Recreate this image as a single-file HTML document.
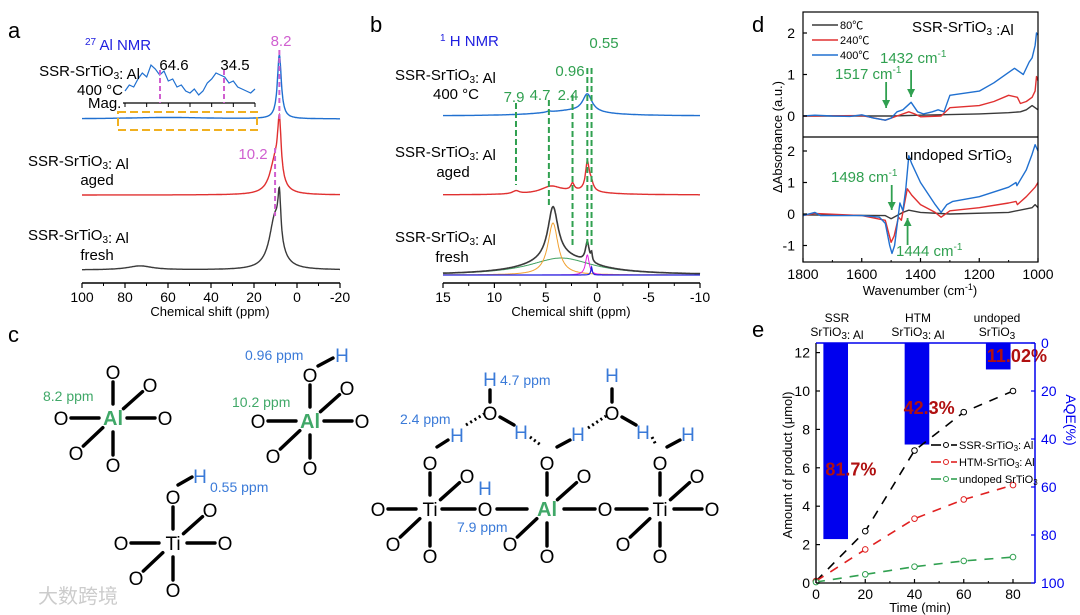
<!DOCTYPE html>
<html><head><meta charset="utf-8">
<style>
html,body{margin:0;padding:0;background:#fff;}
svg{display:block;font-family:"Liberation Sans","Noto Sans CJK SC",sans-serif;}
</style></head>
<body>
<svg id="fig" width="1080" height="615" viewBox="0 0 1080 615" xmlns="http://www.w3.org/2000/svg">
<g id="pa"></g>
<g id="pb"></g>
<g id="pc"></g>
<g id="pd"></g>
<g id="pe"></g>
<text x="38" y="603" font-size="20" fill="#ccc">大数跨境</text>
</svg>
<script>
// ---------- DATA ----------
const aBluePeaks=[[8.2,64,1.1],[60,1.5,25]];
const aRedPeaks=[[8.2,58,1.0],[10.2,32,3.0]];
const aBlackPeaks=[[8.2,45,0.8],[10.2,52,3.2],[73,4,7]];
const aInset=[3,6,5,9,12,10,16,14,11,13,8,9,5,6,3,2,4,1,3,7,9,12,11,10,7,8,5,4,3,2,4];
const aTicks=[100,80,60,40,20,0,-20];
const bBluePeaks=[[0.96,18,0.55],[2.5,5,3.5],[4.7,1,0.3]];
const bRedPeaks=[[0.96,28,0.22],[0.6,8,0.25],[2.4,7,0.2],[4.5,7,1.2],[7.9,3,0.4],[2.0,3,3]];
const bOrange=[[4.3,52,0.6]];
const bGreen=[[3.5,17,3.8]];
const bMagenta=[[0.96,20,0.22]];
const bBlueFit=[[0.55,8,0.08]];
const bTicks=[15,10,5,0,-5,-10];
const dTopBlue=[[1800,0],[1760,0.02],[1700,0],[1640,-0.01],[1600,0.03],[1560,-0.05],[1520,-0.1],[1500,-0.05],[1480,0.1],[1460,0.15],[1432,0.33],[1410,0.1],[1390,0.05],[1360,0.1],[1340,0.15],[1320,0.1],[1300,0.5],[1280,0.52],[1200,0.6],[1150,0.8],[1100,1.05],[1080,1.15],[1060,1.05],[1050,1.0],[1030,1.3],[1020,1.4],[1010,1.7],[1005,2.0],[1000,1.95]];
const dTopRed=[[1800,0],[1600,0.01],[1520,-0.1],[1480,0],[1440,0.1],[1420,0.05],[1400,-0.02],[1330,0],[1300,0.2],[1200,0.25],[1150,0.35],[1100,0.5],[1070,0.45],[1060,0.3],[1040,0.35],[1020,0.45],[1010,0.6],[1005,0.95],[1000,0.85]];
const dTopBlack=[[1800,0],[1500,0],[1400,0.02],[1200,0.05],[1100,0.08],[1060,0.1],[1040,0.15],[1020,0.25],[1010,0.2],[1000,0.15]];
const dBotBlue=[[1800,-0.05],[1760,0.05],[1740,-0.05],[1600,-0.05],[1540,-0.1],[1520,-0.3],[1505,-1.0],[1497,-1.25],[1488,-1.0],[1475,0],[1470,0.35],[1460,0.1],[1450,0.8],[1440,1.85],[1430,1.6],[1400,1.0],[1350,0.3],[1330,0.05],[1310,0.3],[1290,0.4],[1200,0.55],[1100,0.85],[1075,1.0],[1072,0.9],[1040,1.4],[1020,1.9],[1010,2.2],[1000,2.0]];
const dBotRed=[[1800,-0.05],[1760,0.02],[1600,-0.05],[1520,-0.2],[1500,-0.9],[1490,-0.7],[1475,-0.1],[1465,-0.2],[1455,0.3],[1445,0.8],[1430,0.6],[1400,0.3],[1350,0.05],[1330,-0.1],[1300,0.1],[1200,0.2],[1100,0.35],[1075,0.4],[1070,0.3],[1040,0.55],[1010,0.85],[1000,1.0]];
const dBotBlack=[[1800,-0.03],[1520,-0.05],[1500,-0.15],[1460,0.05],[1440,0.12],[1400,0.05],[1300,0],[1100,0.05],[1020,0.2],[1010,0.3],[1000,0.2]];
const dXTicks=[1800,1600,1400,1200,1000];
const dTopTicks=[0,1,2];
const dBotTicks=[-1,0,1,2];
const eTimes=[0,20,40,60,80];
const eSSR=[0.1,2.7,6.9,8.9,10.0];
const eHTM=[0.1,1.75,3.35,4.35,5.1];
const eUndoped=[0.05,0.45,0.85,1.15,1.35];
const eBarNames=["SSR","HTM","undoped"];
const eBarStart=[3,36,69];
const eAQE=[81.7,42.3,11.02];
const eAQELabels=["81.7%","42.3%","11.02%"];
const eXTicks=[0,20,40,60,80];
const eYTicks=[0,2,4,6,8,10,12];
const eAQETicks=[0,20,40,60,80,100];

// ---------- HELPERS ----------
const NS="http://www.w3.org/2000/svg";
function mk(parent,tag,attrs,text){const e=document.createElementNS(NS,tag);for(const k in attrs)e.setAttribute(k,attrs[k]);if(text!==undefined)e.textContent=text;parent.appendChild(e);return e;}
function txt(p,x,y,s,size,fill,anchor,name,extra){const e=mk(p,'text',Object.assign({x:x,y:y,'font-size':size,fill:fill||'#000','text-anchor':anchor||'start'},extra||{}));e.innerHTML=s;


return e;}
function lor(peaks,p){let s=0;for(const [c,h,w] of peaks){s+=h*w*w/((p-c)*(p-c)+w*w);}return s;}
function spectrum(p,peaks,xf,p0,p1,base,color,name,sw){let d='';const n=600;for(let i=0;i<=n;i++){const q=p0+(p1-p0)*i/n;const y=base-lor(peaks,q);d+=(i?'L':'M')+xf(q).toFixed(1)+','+y.toFixed(1);}
const e=mk(p,'path',{d:d,fill:'none',stroke:color,'stroke-width':sw||1.4});


return e;}
function line(p,x1,y1,x2,y2,color,w,dash,name){const e=mk(p,'line',{x1:x1,y1:y1,x2:x2,y2:y2,stroke:color,'stroke-width':w||1.2});if(dash)e.setAttribute('stroke-dasharray',dash);


return e;}
const SUB3='SrTiO<tspan font-size="10" dy="3">3</tspan>';

// ---------- PANEL A ----------
(function(){const g=document.getElementById('pa');
const xa=p=>82+(100-p)*258/120;
txt(g,8,38,'a',22,'#000','start','panel-label-a');
txt(g,85,50,'<tspan font-size="10" dy="-5">27</tspan><tspan dy="5"> Al NMR</tspan>',15,'#2020e0','start','title-al-nmr');
spectrum(g,aBlackPeaks,xa,100,-20,270,'#3a3a3a','trace-fresh');
spectrum(g,aRedPeaks,xa,100,-20,195,'#e03030','trace-aged');
spectrum(g,aBluePeaks,xa,100,-20,119,'#2070d0','trace-400c');
let d='';aInset.forEach((v,i)=>{d+=(i?'L':'M')+(125+i*130/(aInset.length-1)).toFixed(1)+','+(97-v*2).toFixed(1);});
const ins=mk(g,'path',{d:d,fill:'none',stroke:'#2070d0','stroke-width':1.2});


line(g,123,103,255,103,'#000',1.3,null,'inset-axis');
for(let i=0;i<=6;i++)line(g,125+i*130/6,103,125+i*130/6,107,'#000',1,null,'inset-tick');
line(g,160,70,160,103,'#d060d0',2,'5,3','marker-64.6');
line(g,224,70,224,103,'#d060d0',2,'5,3','marker-34.5');
txt(g,174,70,'64.6',15,'#000','middle','label-64.6');
txt(g,235,70,'34.5',15,'#000','middle','label-34.5');
const r=mk(g,'rect',{x:118,y:112,width:139,height:18,fill:'none',stroke:'#f0b020','stroke-width':2,'stroke-dasharray':'8,4'});


txt(g,140,76,'SSR-'+SUB3+': Al',15,'#000','end','label-400c-sample');
txt(g,100,95,'400 °C',15,'#000','middle','label-400c');
txt(g,88,108,'Mag.',15,'#000','start','label-mag');
line(g,xa(8.2),50,xa(8.2),122,'#d060d0',2,'5,3','marker-8.2');
txt(g,281,46,'8.2',15,'#d060d0','middle','label-8.2');
line(g,xa(10.2),148,xa(10.2),216,'#d060d0',2,'5,3','marker-10.2');
txt(g,253,159,'10.2',15,'#d060d0','middle','label-10.2');
txt(g,28,166,'SSR-'+SUB3+': Al',15,'#000','start','label-aged-sample');
txt(g,97,185,'aged',15,'#000','middle','label-aged');
txt(g,28,240,'SSR-'+SUB3+': Al',15,'#000','start','label-fresh-sample');
txt(g,97,260,'fresh',15,'#000','middle','label-fresh');
line(g,82,283,340,283,'#000',1.5,null,'x-axis-a');
aTicks.forEach(t=>{line(g,xa(t),283,xa(t),288,'#000',1.2,null,'x-tick');txt(g,xa(t),302,String(t),14,'#000','middle','x-tick-label');});
for(let t=90;t>-20;t-=20)line(g,xa(t),283,xa(t),286,'#000',1,null,'x-minor-tick');
txt(g,210,316,'Chemical shift (ppm)',13,'#000','middle','x-axis-title-a');
})();

// ---------- PANEL B ----------
(function(){const g=document.getElementById('pb');
const xb=p=>443+(15-p)*257/25;
txt(g,370,32,'b',22,'#000','start','panel-label-b');
txt(g,440,46,'<tspan font-size="10" dy="-5">1</tspan><tspan dy="5"> H NMR</tspan>',15,'#2020e0','start','title-h-nmr');
spectrum(g,bGreen,xb,15,-10,275,'#40a060','fit-green',1);
spectrum(g,bOrange,xb,15,-10,275,'#f0a030','fit-orange',1);
spectrum(g,bMagenta,xb,15,-10,275,'#e020e0','fit-magenta',1);
spectrum(g,bBlueFit,xb,15,-10,275,'#2020e0','fit-blue',1.2);
spectrum(g,bOrange.concat(bGreen,bMagenta,bBlueFit),xb,15,-10,275,'#3a3a3a','trace-fresh-h',1.6);
spectrum(g,bRedPeaks,xb,15,-10,195,'#e03030','trace-aged-h');
spectrum(g,bBluePeaks,xb,15,-10,116,'#2070d0','trace-400c-h');
const gr='#30a050';
line(g,xb(7.9),103,xb(7.9),185,gr,2,'6,3','marker-7.9');
line(g,xb(4.7),100,xb(4.7),205,gr,2,'6,3','marker-4.7');
line(g,xb(2.4),95,xb(2.4),248,gr,2,'6,3','marker-2.4');
line(g,xb(0.96),68,xb(0.96),248,gr,2,'6,3','marker-0.96');
line(g,xb(0.55),68,xb(0.55),248,gr,2,'6,3','marker-0.55');
txt(g,514,102,'7.9',15,gr,'middle','label-7.9');
txt(g,540,100,'4.7',15,gr,'middle','label-4.7');
txt(g,568,100,'2.4',15,gr,'middle','label-2.4');
txt(g,570,76,'0.96',15,gr,'middle','label-0.96');
txt(g,604,48,'0.55',15,gr,'middle','label-0.55');
txt(g,395,80,'SSR-'+SUB3+': Al',15,'#000','start','label-400c-sample-b');
txt(g,456,99,'400 °C',15,'#000','middle','label-400c-b');
txt(g,395,157,'SSR-'+SUB3+': Al',15,'#000','start','label-aged-sample-b');
txt(g,453,177,'aged',15,'#000','middle','label-aged-b');
txt(g,395,242,'SSR-'+SUB3+': Al',15,'#000','start','label-fresh-sample-b');
txt(g,452,262,'fresh',15,'#000','middle','label-fresh-b');
line(g,443,283,700,283,'#000',1.5,null,'x-axis-b');
bTicks.forEach(t=>{line(g,xb(t),283,xb(t),288,'#000',1.2,null,'x-tick');txt(g,xb(t),302,String(t),14,'#000','middle','x-tick-label');});
for(let t=12.5;t>-10;t-=5)line(g,xb(t),283,xb(t),286,'#000',1,null,'x-minor-tick');
txt(g,571,316,'Chemical shift (ppm)',13,'#000','middle','x-axis-title-b');
})();

// ---------- PANEL C ----------
(function(){const g=document.getElementById('pc');
txt(g,8,342,'c',22,'#000','start','panel-label-c');
const blue='#3a7ad8',green='#40a868';
function atom(x,y,s,color,size,name,bold){const t=txt(g,x,y+7,s,size||19,color||'#000','middle',name,bold?{'font-weight':'bold'}:{});return t;}
function bond(x1,y1,x2,y2,dotted){const e=line(g,x1,y1,x2,y2,'#000',dotted?3:3.4,dotted?'2,3':null,dotted?'h-bond':'bond');e.setAttribute('stroke-linecap',dotted?'butt':'round');}
function oct(cx,cy,label,color,skipTop,skipRight,skipLeft){
 const arms=[[0,-46,'t'],[0,47,'b'],[-52,0,'l'],[52,0,'r'],[37,-33,'ur'],[-37,35,'ll']];
 atom(cx,cy,label,color,label==='Al'?20:19,label==='Al'?'atom-al':'atom-ti',label==='Al');
 arms.forEach(([dx,dy,k])=>{
  if(k==='r'&&skipRight)return; if(k==='l'&&skipLeft)return;
  const L=Math.hypot(dx,dy);const ux=dx/L,uy=dy/L;
  bond(cx+ux*14,cy+uy*14,cx+dx-ux*10,cy+dy-uy*10);
  atom(cx+dx,cy+dy,'O','#000',19,'atom-o');
 });
}
oct(113,418,'Al',green);
txt(g,43,401,'8.2 ppm',14,green,'start','label-8.2-ppm');
oct(310,421,'Al',green);
bond(318,366,333,358);atom(342,355,'H',blue,19,'atom-h');
txt(g,245,360,'0.96 ppm',14,blue,'start','label-0.96-ppm');
txt(g,232,407,'10.2 ppm',14,green,'start','label-10.2-ppm');
oct(173,543,'Ti','#000');
bond(178,485,192,477);atom(200,476,'H',blue,19,'atom-h');
txt(g,210,492,'0.55 ppm',14,blue,'start','label-0.55-ppm');
oct(430,509,'Ti','#000',false,true);
bond(442,509,475,509);atom(485,509,'O','#000',19,'atom-o');atom(485,488,'H',blue,19,'atom-h');
bond(497,509,527,509);
txt(g,457,532,'7.9 ppm',14,blue,'start','label-7.9-ppm');
oct(547,509,'Al',green,false,true,true);
bond(564,509,595,509);atom(605,509,'O','#000',19,'atom-o');bond(616,509,647,509);
oct(660,509,'Ti','#000',false,false,true);
bond(437,447,448,440);atom(457,435,'H',blue,19,'atom-h');
txt(g,400,424,'2.4 ppm',14,blue,'start','label-2.4-ppm');
bond(466,425,484,414,true);
atom(490,413,'O','#000',19,'atom-o');bond(490,402,490,390);atom(490,379,'H',blue,19,'atom-h');
txt(g,500,385,'4.7 ppm',14,blue,'start','label-4.7-ppm');
bond(500,417,514,425);atom(521,432,'H',blue,19,'atom-h');bond(530,437,542,446,true);
bond(557,447,570,440);atom(578,434,'H',blue,19,'atom-h');bond(588,428,606,416,true);
atom(612,413,'O','#000',19,'atom-o');bond(612,402,612,389);atom(612,375,'H',blue,19,'atom-h');
bond(622,417,636,425);atom(643,432,'H',blue,19,'atom-h');bond(652,437,656,445,true);
bond(667,447,680,440);atom(688,434,'H',blue,19,'atom-h');
})();

// ---------- PANEL D ----------
(function(){const g=document.getElementById('pd');
const X0=803,X1=1038;
const xd=w=>X0+(1800-w)*(X1-X0)/800;
const yt=v=>116-v*41.5;
const yb=v=>214-v*31.5;
txt(g,752,32,'d',22,'#000','start','panel-label-d');
function path(data,yf,color,name){let d='';data.forEach(([w,v],i)=>{d+=(i?'L':'M')+xd(w).toFixed(1)+','+yf(v).toFixed(1);});const e=mk(g,'path',{d:d,fill:'none',stroke:color,'stroke-width':1.4,'stroke-linejoin':'round'});

}
path(dTopBlack,yt,'#3a3a3a','top-80c');path(dTopRed,yt,'#e03030','top-240c');path(dTopBlue,yt,'#2070d0','top-400c');
path(dBotBlack,yb,'#3a3a3a','bottom-80c');path(dBotRed,yb,'#e03030','bottom-240c');path(dBotBlue,yb,'#2070d0','bottom-400c');
const fr=mk(g,'rect',{x:X0,y:12,width:X1-X0,height:250,fill:'none',stroke:'#000','stroke-width':1.2});


line(g,X0,137,X1,137,'#000',1.2,null,'panel-divider');
dTopTicks.forEach(t=>{line(g,X0,yt(t),X0+4,yt(t),'#000',1.2,null,'y-tick');txt(g,X0-8,yt(t)+5,String(t),14,'#000','end','y-tick-label');});
dBotTicks.forEach(t=>{line(g,X0,yb(t),X0+4,yb(t),'#000',1.2,null,'y-tick');txt(g,X0-8,yb(t)+5,String(t),14,'#000','end','y-tick-label');});
dXTicks.forEach(t=>{line(g,xd(t),262,xd(t),258,'#000',1.2,null,'x-tick');txt(g,xd(t),279,String(t),14,'#000','middle','x-tick-label');});
for(let t=1700;t>1000;t-=200)line(g,xd(t),262,xd(t),260,'#000',1,null,'x-minor-tick');
txt(g,920,295,'Wavenumber (cm<tspan font-size="9" dy="-5">-1</tspan><tspan dy="5">)</tspan>',13,'#000','middle','x-axis-title-d');
txt(g,782,137,'ΔAbsorbance (a.u.)',13,'#000','middle','y-axis-title-d',{transform:'rotate(-90 782 137)'});
const lg=[['#3a3a3a','80℃'],['#e03030','240℃'],['#2070d0','400℃']];
lg.forEach(([c,l],i)=>{line(g,812,25+i*15,838,25+i*15,c,1.5,null,'legend-line');txt(g,840,29+i*15,l,11,'#000','start','legend-entry');});
txt(g,912,32,'SSR-'+SUB3+' :Al',15,'#000','start','title-ssr-d');
txt(g,905,160,'undoped '+SUB3,15,'#000','start','title-undoped-d');
const gr='#30a050';
function arrow(x,y1,y2){line(g,x,y1,x,y2,gr,1.8,null,'arrow');const dir=y2>y1?1:-1;const a=mk(g,'path',{d:`M${x-4},${y2-dir*8}L${x},${y2}L${x+4},${y2-dir*8}Z`,fill:gr});

}
arrow(xd(1517),82,108);arrow(xd(1432),70,97);arrow(xd(1498),185,210);arrow(xd(1444),245,218);
txt(g,835,79,'1517 cm<tspan font-size="10" dy="-6">-1</tspan>',15,gr,'start','label-1517');
txt(g,880,63,'1432 cm<tspan font-size="10" dy="-6">-1</tspan>',15,gr,'start','label-1432');
txt(g,831,182,'1498 cm<tspan font-size="10" dy="-6">-1</tspan>',15,gr,'start','label-1498');
txt(g,896,256,'1444 cm<tspan font-size="10" dy="-6">-1</tspan>',15,gr,'start','label-1444');
})();

// ---------- PANEL E ----------
(function(){const g=document.getElementById('pe');
const X0=816,X1=1035,Y0=583,Y1=343;
const xe=t=>X0+t*197/80;
const ye=v=>Y0-v*19.2;
const ya=q=>Y1+q*(Y0-Y1)/100;
txt(g,752,337,'e',22,'#000','start','panel-label-e');
eAQE.forEach((q,i)=>{const r=mk(g,'rect',{x:xe(eBarStart[i]),y:Y1,width:xe(eBarStart[i]+10)-xe(eBarStart[i]),height:ya(q)-Y1,fill:'#0000ee'});

});
const series=[[eSSR,'#000','ssr'],[eHTM,'#e02020','htm'],[eUndoped,'#30a050','undoped']];
series.forEach(([vals,c,n])=>{let d='';vals.forEach((v,i)=>{d+=(i?'L':'M')+xe(eTimes[i]).toFixed(1)+','+ye(v).toFixed(1);});
const p=mk(g,'path',{d:d,fill:'none',stroke:c,'stroke-width':1.6,'stroke-dasharray':'9,8'});


vals.forEach((v,i)=>{const ci=mk(g,'circle',{cx:xe(eTimes[i]),cy:ye(v),r:2.8,fill:'#fff',stroke:c,'stroke-width':1});

});});
const lp=[[xe(3)+2,ye(5.6)],[xe(36)-1,ye(8.8)],[xe(69)+1,ye(11.5)]];
eAQELabels.forEach((s,i)=>txt(g,lp[i][0],lp[i][1],s,18,'#b01010','start','aqe-label',{'font-weight':'bold'}));
line(g,X0,Y1,X0,Y0,'#000',1.3,null,'y-axis-left');
line(g,X0,Y0,X1,Y0,'#000',1.3,null,'x-axis-e');
line(g,X0,Y1,X1,Y1,'#0000ee',1.5,null,'top-axis');
line(g,X1,Y1,X1,Y0,'#0000ee',1.5,null,'y-axis-right');
eXTicks.forEach(t=>{line(g,xe(t),Y0,xe(t),Y0-4,'#000',1.2,null,'x-tick');txt(g,xe(t),Y0+16,String(t),14,'#000','middle','x-tick-label');});
for(let t=10;t<90;t+=20)line(g,xe(t),Y0,xe(t),Y0-2,'#000',1,null,'x-minor-tick');
eYTicks.forEach(t=>{line(g,X0,ye(t),X0+4,ye(t),'#000',1.2,null,'y-tick');txt(g,X0-6,ye(t)+5,String(t),14,'#000','end','y-tick-label');});
eAQETicks.forEach(t=>{line(g,X1,ya(t),X1-4,ya(t),'#0000ee',1.2,null,'aqe-tick');txt(g,X1+6,ya(t)+5,String(t),14,'#0000ee','start','aqe-tick-label');});
txt(g,920,612,'Time (min)',13,'#000','middle','x-axis-title-e');
txt(g,792,465,'Amount of product (μmol)',13,'#000','middle','y-axis-title-e',{transform:'rotate(-90 792 465)'});
txt(g,1066,420,'AQE(%)',14,'#0000ee','middle','y-axis-title-aqe',{transform:'rotate(90 1066 420)'});
txt(g,837,322,'SSR',12,'#000','middle','header-ssr');
txt(g,837,336,SUB3+': Al',12,'#000','middle','header-ssr-2');
txt(g,918,322,'HTM',12,'#000','middle','header-htm');
txt(g,918,336,SUB3+': Al',12,'#000','middle','header-htm-2');
txt(g,997,322,'undoped',12,'#000','middle','header-undoped');
txt(g,997,336,SUB3,12,'#000','middle','header-undoped-2');
const lg=[['#000','SSR-SrTiO<tspan font-size="8" dy="2">3</tspan><tspan dy="-2">: Al</tspan>'],['#e02020','HTM-SrTiO<tspan font-size="8" dy="2">3</tspan><tspan dy="-2">: Al</tspan>'],['#30a050','undoped SrTiO<tspan font-size="8" dy="2">3</tspan>']];
lg.forEach(([c,l],i)=>{const y=445+i*17;line(g,931,y,941,y,c,1.6,null,'legend-dash');const ci=mk(g,'circle',{cx:946,cy:y,r:2.5,fill:'#fff',stroke:c});


line(g,951,y,957,y,c,1.6,null,'legend-dash');txt(g,959,y+4,l,11,'#000','start','legend-entry');});
})();
</script>
</body></html>
